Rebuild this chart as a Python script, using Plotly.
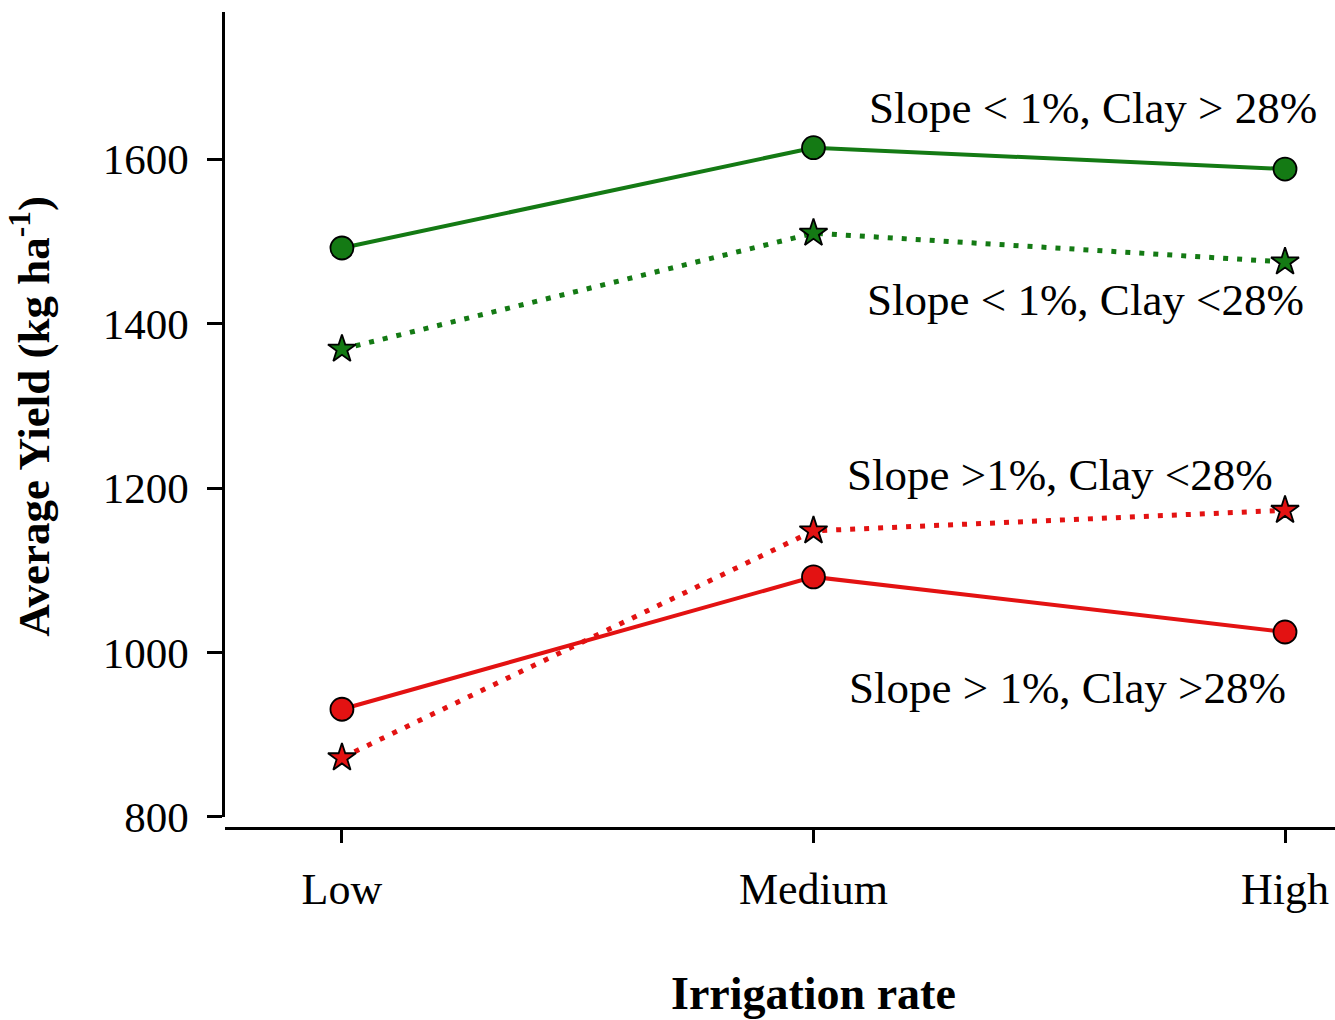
import plotly.graph_objects as go

categories = ["Low", "Medium", "High"]
green_solid = [1492, 1614, 1588]   # Slope < 1%, Clay > 28%
green_dot = [1369, 1510, 1475]     # Slope < 1%, Clay <28%
red_dot = [872, 1148, 1173]        # Slope >1%, Clay <28%
red_solid = [931, 1092, 1025]      # Slope > 1%, Clay >28%

labels = ["Slope < 1%, Clay > 28%", "Slope < 1%, Clay <28%",
          "Slope >1%, Clay <28%", "Slope > 1%, Clay >28%"]
label_x = [1.593, 1.576, 1.523, 1.538]
label_y = [1662, 1429, 1216, 957]

y_ticks = [800, 1000, 1200, 1400, 1600]

GREEN = "#147a14"
RED = "#e31212"
FONT = "Liberation Serif"

fig = go.Figure()

def add(vals, color, dotted, symbol, msize):
    fig.add_trace(go.Scatter(
        x=categories, y=vals, mode="lines+markers",
        line=dict(color=color, width=5 if dotted else 4,
                  dash="5px,9px" if dotted else "solid"),
        marker=dict(symbol=symbol, size=msize, color=color,
                    line=dict(color="black", width=1.8)),
        showlegend=False))

add(green_solid, GREEN, False, "circle", 23)
add(green_dot, GREEN, True, "star", 21)
add(red_dot, RED, True, "star", 21)
add(red_solid, RED, False, "circle", 23)

for t, x, y in zip(labels, label_x, label_y):
    fig.add_annotation(x=x, y=y, xref="x", yref="y", text=t, showarrow=False,
                       xanchor="center", yanchor="middle",
                       font=dict(family=FONT, size=45, color="black"))

fig.add_annotation(x=-0.175, y=0.505, xref="paper", yref="paper",
                   xanchor="center", yanchor="middle",
                   text="<b>Average Yield (kg ha<sup>-1</sup>)</b>", textangle=-90,
                   showarrow=False, font=dict(family=FONT, size=45, color="black"))
fig.add_annotation(x=0.53, y=-0.203, xref="paper", yref="paper",
                   xanchor="center", yanchor="middle",
                   text="<b>Irrigation rate</b>", showarrow=False,
                   font=dict(family=FONT, size=46, color="black"))

fig.update_layout(
    width=1335, height=1020,
    margin=dict(l=225, r=0, t=12, b=192),
    paper_bgcolor="white", plot_bgcolor="white",
    font=dict(family=FONT, color="black"),
    xaxis=dict(type="category", range=[-0.248, 2.106], anchor="free", position=0,
               showline=True, linecolor="black", linewidth=2.5,
               ticks="outside", ticklen=13, tickwidth=2.5, tickcolor="black",
               tickfont=dict(family=FONT, size=44), showgrid=False, zeroline=False,
               ticklabelstandoff=8),
    yaxis=dict(range=[800, 1779], domain=[0.0135, 1],
               tickvals=y_ticks, ticktext=[str(v) for v in y_ticks],
               showline=True, linecolor="black", linewidth=2.5,
               ticks="outside", ticklen=15, tickwidth=2.5, tickcolor="black",
               tickfont=dict(family=FONT, size=43), showgrid=False, zeroline=False,
               ticklabelstandoff=10),
)

fig.write_html("out.html")
